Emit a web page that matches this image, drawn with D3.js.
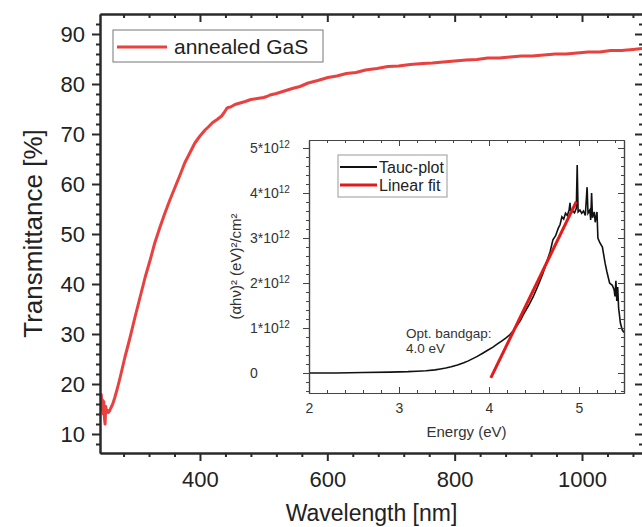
<!DOCTYPE html>
<html>
<head>
<meta charset="utf-8">
<script src="https://cdn.jsdelivr.net/npm/d3@7"></script>
<style>
  body { margin: 0; background: #fff; }
  svg { display: block; font-family: "Liberation Sans", Arial, sans-serif; }
</style>
</head>
<body>
<div id="chart"></div>
<script>
// main spectrum: wavelength (nm) vs transmittance (%)
const wavelength = [243, 244, 245, 246, 247, 248, 249, 250, 251, 252, 253, 254, 256, 258, 260, 263, 266, 270, 275, 282,
  290, 298, 306, 314, 322, 329, 337, 345, 353, 361, 369, 376, 384, 392, 400, 408, 413, 420, 427, 434,
  438, 442, 444, 448, 455, 463, 471, 480, 490, 500, 505, 510, 520, 530, 545, 557, 570, 585, 601, 615,
  630, 645, 660, 678, 695, 712, 730, 750, 765, 782, 800, 818, 835, 852, 870, 887, 905, 922, 940, 958,
  975, 992, 1010, 1028, 1045, 1062, 1080, 1096];
const transmittance = [17.5, 14.8, 17.9, 15.2, 16.8, 14.0, 16.5, 13.2, 12.0, 15.5, 14.6, 14.8, 14.3, 14.6, 15.2, 16.0, 17.2, 19.0, 21.5, 25.3,
  29.2, 33.4, 37.4, 41.4, 44.9, 48.2, 51.3, 54.2, 56.9, 59.4, 61.9, 64.2, 66.2, 68.2, 69.6, 70.8, 71.4, 72.3, 72.9, 73.6,
  74.3, 75.1, 75.3, 75.4, 75.9, 76.2, 76.5, 76.9, 77.1, 77.3, 77.5, 77.8, 78.1, 78.5, 79.1, 79.5, 80.2, 80.7, 81.3, 81.6,
  82.1, 82.3, 82.8, 83.1, 83.5, 83.6, 83.9, 84.1, 84.2, 84.4, 84.6, 84.8, 84.9, 85.2, 85.2, 85.4, 85.6, 85.6, 85.8, 86.0,
  86.0, 86.2, 86.4, 86.4, 86.7, 86.7, 86.9, 87.1];

// inset: Tauc plot, energy (eV) vs (alpha h nu)^2 in units of 1e12
const energy = [2.00, 2.30, 2.60, 2.90, 3.10, 3.20, 3.30, 3.40, 3.46, 3.52, 3.58, 3.65, 3.72, 3.77, 3.82, 3.87, 3.93, 3.98, 4.04, 4.09,
  4.14, 4.19, 4.23, 4.27, 4.31, 4.35, 4.38, 4.44, 4.49, 4.54, 4.60, 4.65, 4.68, 4.71, 4.74, 4.77, 4.79, 4.81, 4.83, 4.85,
  4.87, 4.89, 4.90, 4.91, 4.93, 4.95, 4.97, 4.98, 4.99, 5.01, 5.03, 5.05, 5.07, 5.09, 5.10, 5.12, 5.13, 5.14, 5.15, 5.17,
  5.18, 5.20, 5.21, 5.23, 5.26, 5.29, 5.31, 5.34, 5.37, 5.39, 5.40, 5.41, 5.42, 5.43, 5.44, 5.46, 5.48, 5.50];
const taucValue = [0.00, 0.00, 0.01, 0.02, 0.03, 0.04, 0.05, 0.07, 0.09, 0.11, 0.14, 0.18, 0.23, 0.27, 0.32, 0.37, 0.44, 0.50, 0.57, 0.64,
  0.71, 0.78, 0.85, 0.94, 1.05, 1.17, 1.29, 1.50, 1.69, 1.92, 2.22, 2.52, 2.70, 2.96, 3.05, 3.22, 3.30, 3.47, 3.42, 3.55,
  3.50, 3.62, 3.78, 3.55, 3.60, 3.56, 3.66, 4.62, 3.58, 3.62, 3.55, 3.60, 3.50, 4.13, 3.55, 3.62, 3.40, 4.00, 3.45, 3.58,
  3.35, 3.58, 3.00, 2.90, 2.80, 2.44, 2.25, 2.00, 1.95, 1.85, 1.70, 2.05, 1.60, 1.91, 1.45, 1.11, 0.96, 0.90];
const fitEnergy = [4.02, 4.97];
const fitValue = [-0.11, 3.81];

const xMajor = [400, 600, 800, 1000];
const yMajor = [10, 20, 30, 40, 50, 60, 70, 80, 90];
const insetXMajor = [2, 3, 4, 5];
const insetYMajor = [0, 1, 2, 3, 4, 5];

const W = 642, H = 527;
const FONT = '"Liberation Sans", Arial, sans-serif';
const AXIS = "#2a2a2a";
const RED = "#e8413f";

const svg = d3.select("#chart").append("svg").attr("width", W).attr("height", H);

const m = { left: 100, right: 643, top: 14, bottom: 453 };
const x = d3.scaleLinear().domain([243, 1095.8]).range([m.left, m.right]);
const y = d3.scaleLinear().domain([6.2, 94]).range([m.bottom, m.top]);

const xMinor = d3.range(280, 1100, 40).filter(v => !xMajor.includes(v));
const yMinor = d3.range(8, 94, 2).filter(v => !yMajor.includes(v));

function styleAxis(g, width) {
    g.select(".domain").attr("stroke", AXIS).attr("stroke-width", width);
    g.selectAll(".tick line").attr("stroke", AXIS).attr("stroke-width", width);
}

// curve first, clipped to plot
svg.append("clipPath").attr("id", "plotClip").append("rect")
    .attr("x", m.left).attr("y", m.top).attr("width", m.right - m.left).attr("height", m.bottom - m.top);

const mainLine = d3.line().x((d, i) => x(wavelength[i])).y(d => y(d));
svg.append("path").datum(transmittance)
    .attr("clip-path", "url(#plotClip)")
    .attr("fill", "none").attr("stroke", RED).attr("stroke-width", 3)
    .attr("stroke-linejoin", "round")
    .attr("d", mainLine);

// main axes
const gBottom = svg.append("g").attr("transform", `translate(0,${m.bottom})`)
    .call(d3.axisBottom(x).tickValues(xMajor).tickSize(8).tickSizeOuter(0).tickFormat(d3.format("d")));
gBottom.selectAll("text").attr("y", 18).attr("font-size", 22).attr("font-family", FONT).attr("fill", "#222");
styleAxis(gBottom, 2);
styleAxis(svg.append("g").attr("transform", `translate(0,${m.bottom})`)
    .call(d3.axisBottom(x).tickValues(xMinor).tickSize(4).tickSizeOuter(0).tickFormat("")), 2);

const gTop = svg.append("g").attr("transform", `translate(0,${m.top})`)
    .call(d3.axisBottom(x).tickValues(xMajor).tickSize(8).tickSizeOuter(0).tickFormat(""));
styleAxis(gTop, 2);
styleAxis(svg.append("g").attr("transform", `translate(0,${m.top})`)
    .call(d3.axisBottom(x).tickValues(xMinor).tickSize(4).tickSizeOuter(0).tickFormat("")), 2);

const gLeft = svg.append("g").attr("transform", `translate(${m.left},0)`)
    .call(d3.axisLeft(y).tickValues(yMajor).tickSize(8).tickSizeOuter(0).tickPadding(7));
gLeft.selectAll("text").attr("font-size", 22).attr("font-family", FONT).attr("fill", "#222");
styleAxis(gLeft, 2);
styleAxis(svg.append("g").attr("transform", `translate(${m.left},0)`)
    .call(d3.axisLeft(y).tickValues(yMinor).tickSize(4).tickSizeOuter(0).tickFormat("")), 2);

styleAxis(svg.append("g").attr("transform", `translate(${m.right},0)`)
    .call(d3.axisRight(y).tickValues(yMajor).tickSize(-8).tickSizeOuter(0).tickFormat("")), 2);
styleAxis(svg.append("g").attr("transform", `translate(${m.right},0)`)
    .call(d3.axisRight(y).tickValues(yMinor).tickSize(-4).tickSizeOuter(0).tickFormat("")), 2);

svg.append("text")
    .attr("transform", `translate(42,${(m.top + m.bottom) / 2}) rotate(-90)`)
    .attr("text-anchor", "middle").attr("font-size", 26).attr("fill", "#222")
    .text("Transmittance [%]");
svg.append("text")
    .attr("x", (m.left + m.right) / 2).attr("y", 521)
    .attr("text-anchor", "middle").attr("font-size", 23).attr("fill", "#222")
    .text("Wavelength [nm]");

// main legend
const leg = svg.append("g");
leg.append("rect").attr("x", 113).attr("y", 30).attr("width", 210).attr("height", 32)
    .attr("fill", "#fff").attr("stroke", "#777").attr("stroke-width", 1);
leg.append("line").attr("x1", 117).attr("x2", 167).attr("y1", 47).attr("y2", 47)
    .attr("stroke", RED).attr("stroke-width", 3);
leg.append("text").attr("x", 174).attr("y", 54).attr("font-size", 21).attr("fill", "#222").text("annealed GaS");

// ---- inset ----
const im = { left: 309, right: 624, top: 140, bottom: 393 };
const ix = d3.scaleLinear().domain([2, 5.5]).range([im.left, im.right]);
const iy = d3.scaleLinear().domain([-0.444, 5.178]).range([im.bottom, im.top]);
const ixMinor = d3.range(2.2, 5.5, 0.2).filter(v => Math.abs(v - Math.round(v)) > 0.01);
const iyMinor = d3.range(-0.4, 5.1, 0.2).filter(v => Math.abs(v - Math.round(v)) > 0.01);
const INSET_AXIS = "#444";

svg.append("rect").attr("x", im.left).attr("y", im.top)
    .attr("width", im.right - im.left).attr("height", im.bottom - im.top)
    .attr("fill", "#fff");

svg.append("clipPath").attr("id", "insetClip").append("rect")
    .attr("x", im.left).attr("y", im.top).attr("width", im.right - im.left).attr("height", im.bottom - im.top);

const taucLine = d3.line().x((d, i) => ix(energy[i])).y(d => iy(d));
svg.append("path").datum(taucValue)
    .attr("clip-path", "url(#insetClip)")
    .attr("fill", "none").attr("stroke", "#111").attr("stroke-width", 1.6)
    .attr("d", taucLine);

const fitLine = d3.line().x((d, i) => ix(fitEnergy[i])).y(d => iy(d));
svg.append("path").datum(fitValue)
    .attr("fill", "none").attr("stroke", "#e41a1a").attr("stroke-width", 3)
    .attr("d", fitLine);

function insetAxis(g) {
    g.select(".domain").attr("stroke", INSET_AXIS).attr("stroke-width", 1.2);
    g.selectAll(".tick line").attr("stroke", INSET_AXIS).attr("stroke-width", 1);
}

const ib = svg.append("g").attr("transform", `translate(0,${im.bottom})`)
    .call(d3.axisBottom(ix).tickValues(insetXMajor).tickSize(-6).tickSizeOuter(0).tickFormat(d3.format("d")));
ib.selectAll("text").attr("y", 10).attr("font-size", 14).attr("font-family", FONT).attr("fill", "#333");
insetAxis(ib);
insetAxis(svg.append("g").attr("transform", `translate(0,${im.bottom})`)
    .call(d3.axisBottom(ix).tickValues(ixMinor).tickSize(-3).tickSizeOuter(0).tickFormat("")));
insetAxis(svg.append("g").attr("transform", `translate(0,${im.top})`)
    .call(d3.axisTop(ix).tickValues(insetXMajor).tickSize(-6).tickSizeOuter(0).tickFormat("")));
insetAxis(svg.append("g").attr("transform", `translate(0,${im.top})`)
    .call(d3.axisTop(ix).tickValues(ixMinor).tickSize(-3).tickSizeOuter(0).tickFormat("")));

const il = svg.append("g").attr("transform", `translate(${im.left},0)`)
    .call(d3.axisLeft(iy).tickValues(insetYMajor).tickSize(6).tickSizeOuter(0).tickFormat(""));
insetAxis(il);
insetAxis(svg.append("g").attr("transform", `translate(${im.left},0)`)
    .call(d3.axisLeft(iy).tickValues(iyMinor).tickSize(3).tickSizeOuter(0).tickFormat("")));
insetAxis(svg.append("g").attr("transform", `translate(${im.right},0)`)
    .call(d3.axisRight(iy).tickValues(insetYMajor).tickSize(-6).tickSizeOuter(0).tickFormat("")));
insetAxis(svg.append("g").attr("transform", `translate(${im.right},0)`)
    .call(d3.axisRight(iy).tickValues(iyMinor).tickSize(-3).tickSizeOuter(0).tickFormat("")));

// inset y labels like "5*10^12", left aligned
const iyLabels = svg.append("g").attr("font-size", 14).attr("fill", "#333");
insetYMajor.forEach(v => {
    const t = iyLabels.append("text").attr("x", 250).attr("y", iy(v) + 5);
    if (v === 0) { t.text("0"); return; }
    t.append("tspan").text(`${v}*10`);
    t.append("tspan").attr("dy", -5).attr("font-size", 10).text("12");
});

svg.append("text")
    .attr("transform", `translate(241,${(im.top + im.bottom) / 2}) rotate(-90)`)
    .attr("text-anchor", "middle").attr("font-size", 15).attr("fill", "#333")
    .text("(αhν)² (eV)²/cm²");
svg.append("text")
    .attr("x", (im.left + im.right) / 2).attr("y", 437)
    .attr("text-anchor", "middle").attr("font-size", 15).attr("fill", "#333")
    .text("Energy (eV)");

svg.append("text").attr("x", 406).attr("y", 338).attr("font-size", 13.5).attr("fill", "#333").text("Opt. bandgap:");
svg.append("text").attr("x", 406).attr("y", 353).attr("font-size", 13.5).attr("fill", "#333").text("4.0 eV");

// inset legend
const il2 = svg.append("g");
il2.append("rect").attr("x", 338).attr("y", 155).attr("width", 109).attr("height", 42)
    .attr("fill", "#fff").attr("stroke", "#999").attr("stroke-width", 1);
il2.append("line").attr("x1", 340).attr("x2", 377).attr("y1", 167).attr("y2", 167)
    .attr("stroke", "#111").attr("stroke-width", 2);
il2.append("line").attr("x1", 340).attr("x2", 377).attr("y1", 185).attr("y2", 185)
    .attr("stroke", "#e41a1a").attr("stroke-width", 3);
il2.append("text").attr("x", 379).attr("y", 173).attr("font-size", 16).attr("fill", "#222").text("Tauc-plot");
il2.append("text").attr("x", 379).attr("y", 191).attr("font-size", 16).attr("fill", "#222").text("Linear fit");
</script>
</body>
</html>
